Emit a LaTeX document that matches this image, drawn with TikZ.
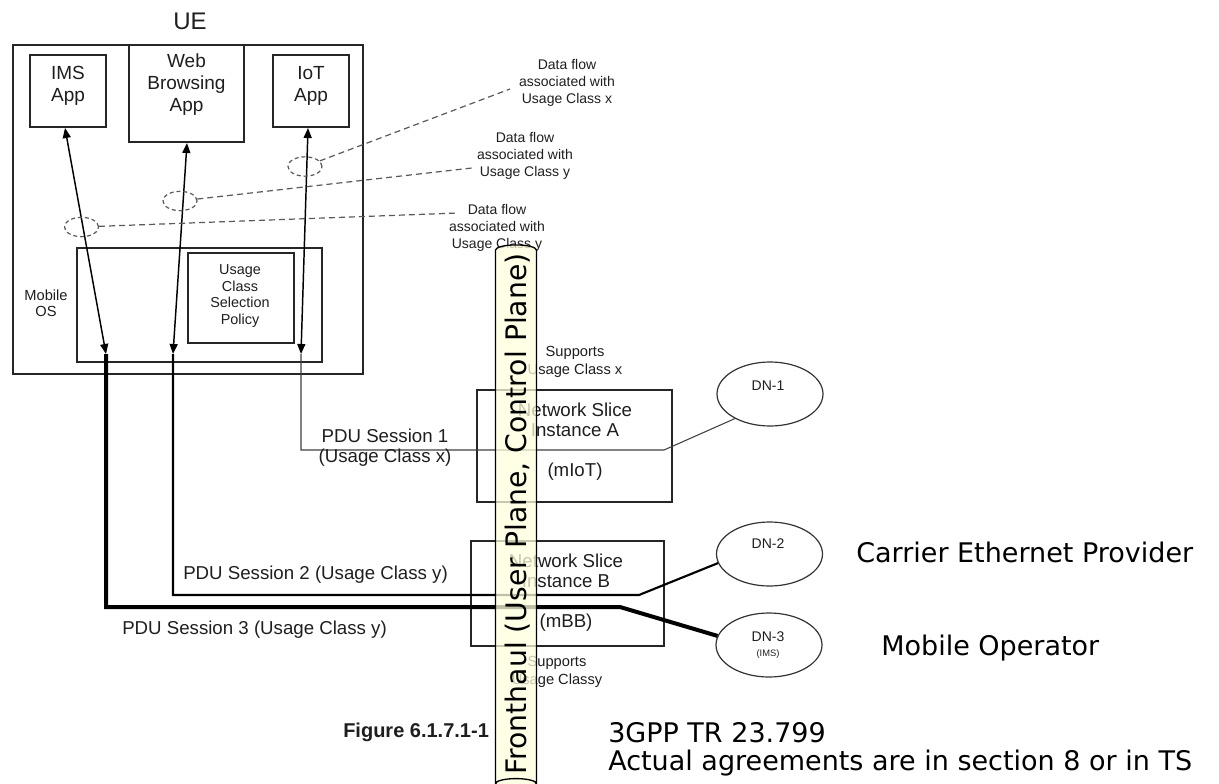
\documentclass[tikz,border=0pt]{standalone}
\usepackage{fontspec}
\setmainfont{Liberation Sans}
\newfontfamily\dvs{DejaVu Sans}
\usetikzlibrary{shapes.geometric,arrows.meta}
\definecolor{fhfill}{RGB}{255,255,222}
\definecolor{txt}{RGB}{30,30,30}
\begin{document}
\begin{tikzpicture}[x=0.75pt,y=-0.75pt,
  bx/.style={draw=black!85, line width=0.9pt, inner sep=0pt, rectangle},
  lab/.style={text=txt, align=center, inner sep=0pt},
  apps/.style={lab, font=\fontsize{14.25}{16.5}\selectfont},
  small/.style={lab, font=\fontsize{10.5}{13}\selectfont},
  mid/.style={lab, font=\fontsize{14}{15.2}\selectfont},
  big/.style={inner sep=0pt, text=black, font=\dvs\fontsize{20.25}{21}\selectfont, align=left},
  flowell/.style={ellipse, draw=black!65, dash pattern=on 3pt off 2.2pt, line width=0.9pt, inner sep=0pt, minimum width=25.5pt, minimum height=14.5pt},
  flowln/.style={draw=black!65, dash pattern=on 4.5pt off 3pt, line width=0.9pt},
  dn/.style={ellipse, draw=black!80, line width=0.9pt, minimum width=79.5pt, minimum height=48pt, inner sep=0pt},
  biarrow/.style={{Triangle[length=7.5pt,width=6pt]}-{Triangle[length=7.5pt,width=6pt]}, line width=1.1pt, draw=black},
]
\useasboundingbox (0,0) rectangle (1219,784);

% UE and apps
\node[bx, minimum width=262.5pt, minimum height=246.75pt] (ue) at (188,209.5) {};
\node[lab, font=\fontsize{18}{20}\selectfont] (uelab) at (190,21) {UE};
\node[bx, minimum width=57pt, minimum height=54pt] (ims) at (68,91) {};
\node[apps] (imslab) at (68,86) {IMS\\App};
\node[bx, minimum width=86.25pt, minimum height=72.75pt] (web) at (186.5,93.5) {};
\node[apps] (weblab) at (186.5,85) {Web\\Browsing\\App};
\node[bx, minimum width=57pt, minimum height=54pt] (iot) at (311,91) {};
\node[apps] (iotlab) at (311,86) {IoT\\App};
\node[bx, minimum width=183.75pt, minimum height=85.5pt] (mos) at (199.5,305) {};
\node[bx, minimum width=79.5pt, minimum height=67.5pt] (ucsp) at (241,298) {};
\node[lab, font=\fontsize{10.8}{12.6}\selectfont] (ucsplab) at (240,296) {Usage\\Class\\Selection\\Policy};
\node[lab, font=\fontsize{11}{12}\selectfont] (moslab) at (46,303) {Mobile\\OS};

% arrows
\coordinate (imsT) at (65,128);  \coordinate (imsB) at (106,354);
\coordinate (webT) at (187,143); \coordinate (webB) at (173,354);
\coordinate (iotT) at (308,128); \coordinate (iotB) at (301,354);
\draw[biarrow] (imsT) -- (imsB);
\draw[biarrow] (webT) -- (webB);
\draw[biarrow] (iotT) -- (iotB);

% data flows
\node[flowell] (fiot) at (305,166.5) {};
\node[flowell] (fweb) at (180,201) {};
\node[flowell] (fims) at (81.5,227) {};
\coordinate (fx) at (510,89);
\coordinate (fy1) at (472,168);
\coordinate (fy2) at (458,213);
\draw[flowln] (fiot) -- (fx);
\draw[flowln] (fweb) -- (fy1);
\draw[flowln] (fims) -- (fy2);
\node[small] (lx) at (567,83) {Data flow\\associated with\\Usage Class x};
\node[small] (ly1) at (525,156) {Data flow\\associated with\\Usage Class y};
\node[small] (ly2) at (497,228) {Data flow\\associated with\\Usage Class y};

% network slices
\node[bx, minimum width=146.25pt, minimum height=84pt] (nsia) at (574.5,446) {};
\node[mid] (nsialab) at (575,420) {Network Slice\\Instance A};
\node[mid] (nsiam) at (575,472) {(mIoT)};
\node[lab, font=\fontsize{11}{13.5}\selectfont] (supa) at (575,362) {Supports\\Usage Class x};
\node[bx, minimum width=144.75pt, minimum height=78.75pt] (nsib) at (567.5,593.5) {};
\node[mid] (nsiblab) at (566,570.5) {Network Slice\\Instance B};
\node[mid] (nsibm) at (566,623) {(mBB)};
\node[lab, font=\fontsize{11}{13.5}\selectfont] (supb) at (557,672) {Supports\\Usage Classy};

% data networks
\node[dn] (dn1) at (770,394) {};
\node[lab, font=\fontsize{10.5}{12}\selectfont] (dn1l) at (768,386) {DN-1};
\node[dn] (dn2) at (769.5,554) {};
\node[lab, font=\fontsize{10.5}{12}\selectfont] (dn2l) at (768,544) {DN-2};
\node[dn] (dn3) at (769,645) {};
\node[lab, font=\fontsize{10.5}{12}\selectfont] (dn3l) at (768,637) {DN-3};
\node[lab, font=\fontsize{7}{8}\selectfont] (dn3s) at (768,654) {(IMS)};

% PDU sessions
\coordinate (s1k) at (664,450);
\coordinate (s2k) at (639,595);
\coordinate (s3k) at (620,607);
\draw[draw=black!75, line width=0.8pt] (iotB) |- (s1k) -- (dn1.215);
\draw[draw=black, line width=1.6pt] (webB) |- (s2k) -- (dn2.190);
\draw[draw=black, line width=3pt] (imsB) |- (s3k) -- (dn3.170);
\node[mid] (p1) at (385,448) {PDU Session 1\\(Usage Class x)};
\node[mid, anchor=west] (p2) at (183,575) {PDU Session 2 (Usage Class y)};
\node[mid, anchor=west] (p3) at (122,630) {PDU Session 3 (Usage Class y)};

% right texts
\node[big, anchor=west] (cep) at (856,552) {Carrier Ethernet Provider};
\node[big, anchor=west] (mo) at (881,648) {Mobile Operator};
\node[big, anchor=west] (tr) at (608,749) {3GPP TR 23.799\\Actual agreements are in section 8 or in TS};
\node[lab, font=\bfseries\fontsize{15}{16}\selectfont, anchor=west] (fig) at (343,732) {Figure 6.1.7.1-1};

% fronthaul cylinder
\node[cylinder, draw=black, line width=1pt, fill=fhfill, fill opacity=0.75, text opacity=1,
      shape border rotate=180, rotate=90, aspect=0.5,
      minimum width=30.75pt, minimum height=408pt, inner sep=0pt,
      text height=15.5pt, text depth=0pt, font=\dvs\fontsize{21.2}{22}\selectfont]
      (fh) at (516,514) {Fronthaul (User Plane, Control Plane)};
\end{tikzpicture}
\end{document}
